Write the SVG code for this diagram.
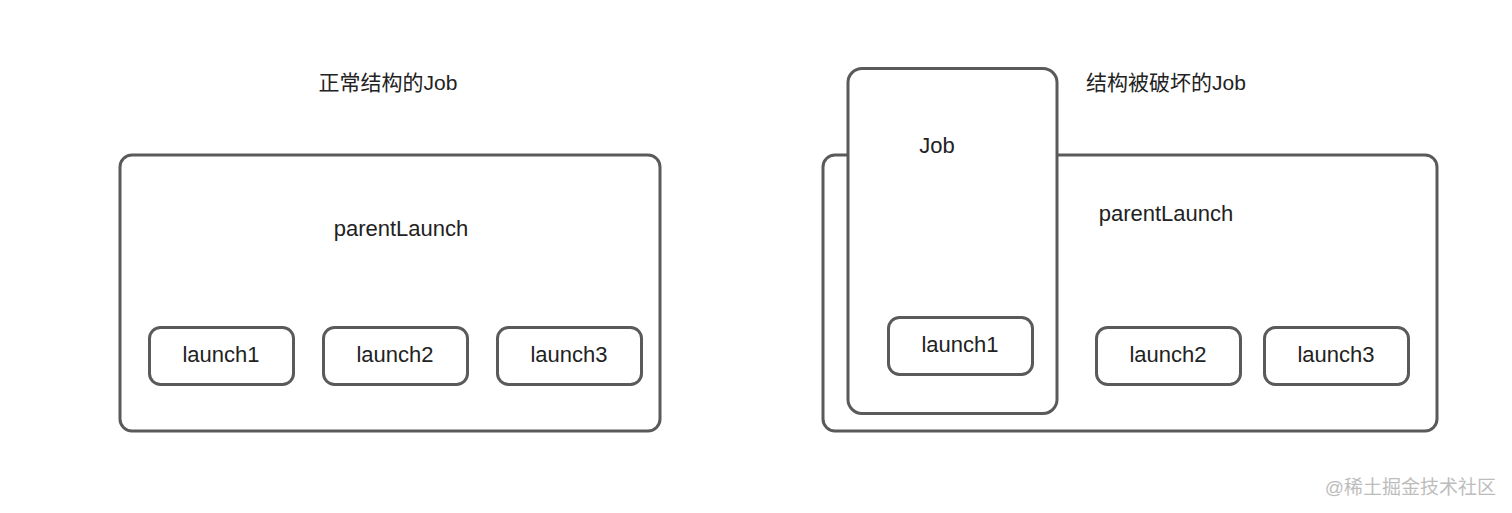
<svg xmlns="http://www.w3.org/2000/svg" width="1512" height="513" viewBox="0 0 1512 513">
<style>
.box{fill:#fff;stroke:#5a5a5a;stroke-width:3}
.t{font-family:"Liberation Sans","Noto Sans CJK SC",sans-serif;font-size:22px;fill:#222;text-anchor:middle}
.h{font-family:"Liberation Sans","Noto Sans CJK SC",sans-serif;font-size:21px;fill:#222;text-anchor:middle}
.wm{font-family:"Liberation Sans","Noto Sans CJK SC",sans-serif;font-size:19px;fill:#bdbdbd;text-anchor:end}
</style>
<rect width="1512" height="513" fill="#fff"/>
<g id="connectors"></g>
<text class="h" x="388" y="90">正常结构的Job</text>
<g id="parentLaunchA">
<rect class="box" x="120" y="155" width="540" height="276" rx="12"/>
<text class="t" x="401" y="236">parentLaunch</text>
</g>
<g id="launch1A"><rect class="box" x="149.5" y="327.5" width="144" height="57" rx="11"/><text class="t" x="221" y="362">launch1</text></g>
<g id="launch2A"><rect class="box" x="323.5" y="327.5" width="144" height="57" rx="11"/><text class="t" x="395" y="362">launch2</text></g>
<g id="launch3A"><rect class="box" x="497.5" y="327.5" width="144" height="57" rx="11"/><text class="t" x="569" y="362">launch3</text></g>
<text class="h" x="1166" y="90">结构被破坏的Job</text>
<g id="parentLaunchB">
<rect class="box" x="823" y="155" width="614" height="276" rx="12"/>
<text class="t" x="1166" y="221">parentLaunch</text>
</g>
<g id="job">
<rect class="box" x="848" y="68.5" width="209" height="345" rx="14"/>
<text class="t" x="937" y="153">Job</text>
</g>
<g id="launch1B"><rect class="box" x="888.5" y="317.5" width="144" height="57" rx="11"/><text class="t" x="960" y="352">launch1</text></g>
<g id="launch2B"><rect class="box" x="1096.5" y="327.5" width="144" height="57" rx="11"/><text class="t" x="1168" y="362">launch2</text></g>
<g id="launch3B"><rect class="box" x="1264.5" y="327.5" width="144" height="57" rx="11"/><text class="t" x="1336" y="362">launch3</text></g>
<text class="wm" x="1496" y="494">@稀土掘金技术社区</text>
</svg>
